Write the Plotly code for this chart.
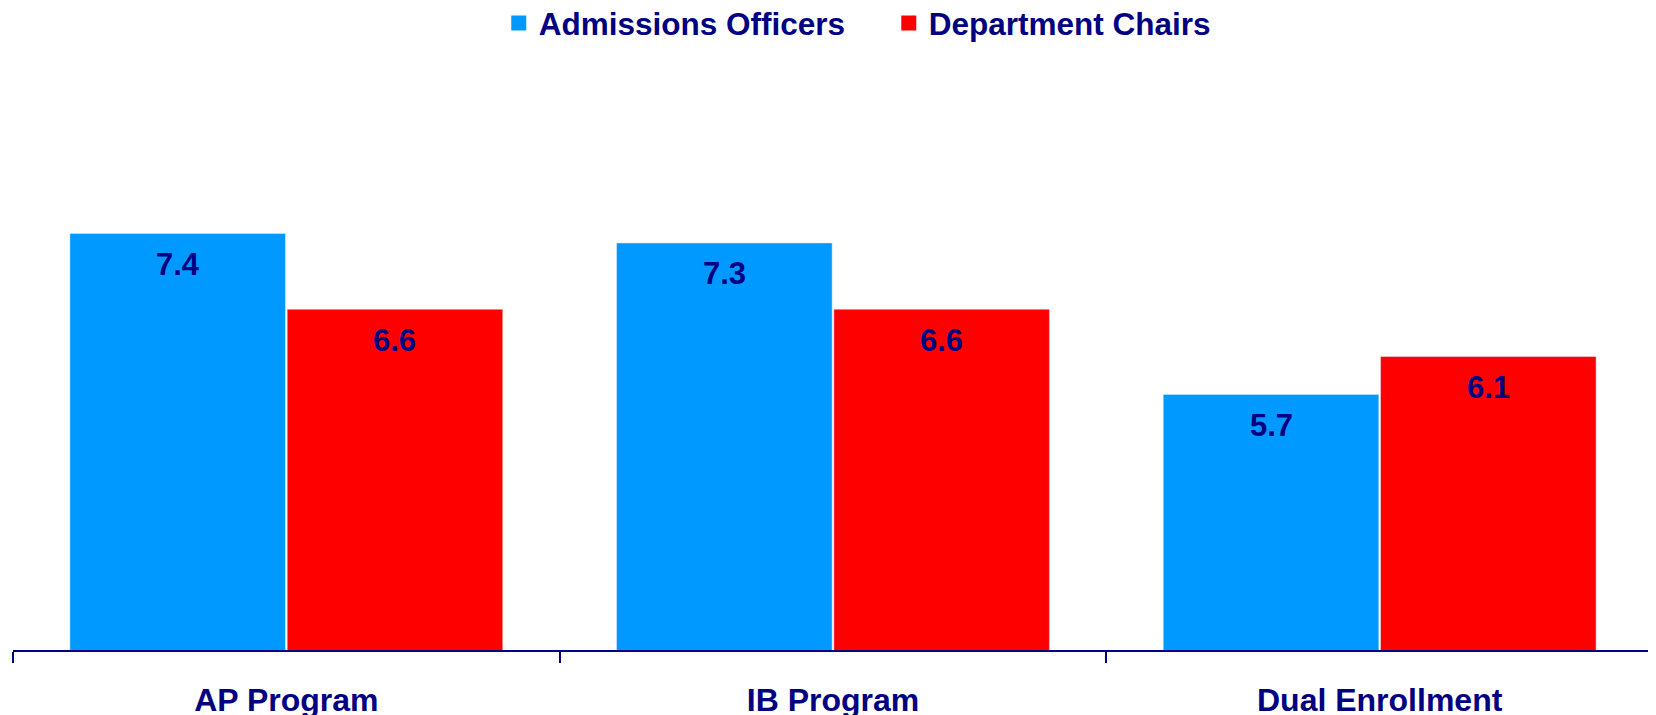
import plotly.graph_objects as go

categories = ["AP Program", "IB Program", "Dual Enrollment"]
series_names = ["Admissions Officers", "Department Chairs"]
admissions = [7.4, 7.3, 5.7]
chairs = [6.6, 6.6, 6.1]
colors = ["#0099FF", "#FF0000"]
navy = "#000080"
font_family = "Liberation Sans, Arial, sans-serif"

bargap = 0.205
values = [admissions, chairs]

fig = go.Figure()
for name, vals, col in zip(series_names, values, colors):
    fig.add_trace(go.Bar(x=categories, y=vals, name=name, marker_color=col,
                         showlegend=False, hoverinfo="x+y"))
    fig.add_trace(go.Scatter(x=[None], y=[None], mode="markers", name=name,
                             marker=dict(symbol="square", size=15, color=col),
                             showlegend=True))

slot = (1 - bargap) / 2
annotations = []
for k, vals in enumerate(values):
    off = -slot / 2 + k * slot
    for i, v in enumerate(vals):
        annotations.append(dict(x=i + off, y=v, xref="x", yref="y", text=f"<b>{v:.1f}</b>",
                                showarrow=False, yanchor="middle", yshift=-31,
                                font=dict(family=font_family, size=31, color=navy)))

# page body has an 8px default margin, so the figure is sized to end at the window edge
fig.update_layout(
    width=1648, height=707,
    margin=dict(l=5, r=3, t=74, b=65, autoexpand=False),
    paper_bgcolor="white", plot_bgcolor="white",
    barmode="group", bargap=bargap, bargroupgap=0.008,
    font=dict(family=font_family, size=31, color=navy),
    legend=dict(orientation="h", x=0.2962, xanchor="left", y=1.104, yanchor="middle",
                font=dict(family=font_family, size=31.5, color=navy, weight="bold"),
                entrywidth=345, entrywidthmode="pixels", bgcolor="rgba(0,0,0,0)"),
    annotations=annotations,
    showlegend=True,
)
fig.update_xaxes(type="category", showline=True, linecolor=navy, linewidth=2,
                 ticks="outside", tickson="boundaries", ticklen=11, tickwidth=2, tickcolor=navy,
                 tickfont=dict(family=font_family, size=32, color=navy, weight="bold"),
                 ticklabelstandoff=21, showgrid=False, zeroline=False, automargin=False)
fig.update_yaxes(range=[3, 9], visible=False, showgrid=False, zeroline=False, automargin=False)

fig.write_html("out.html")
